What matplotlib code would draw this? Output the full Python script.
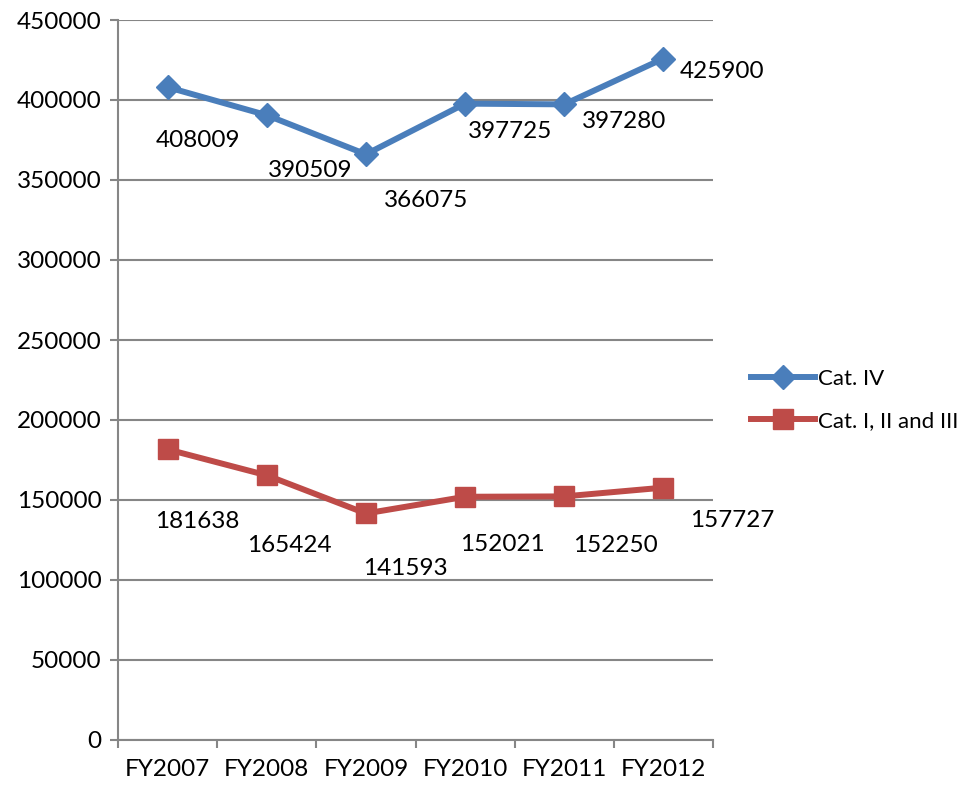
import matplotlib
matplotlib.use('Agg')
import matplotlib.pyplot as plt

years = ['FY2007', 'FY2008', 'FY2009', 'FY2010', 'FY2011', 'FY2012']
cat_iv = [408009, 390509, 366075, 397725, 397280, 425900]
cat_i_iii = [181638, 165424, 141593, 152021, 152250, 157727]

# where each value label sits relative to its point (pixels)
iv_offsets = [(30, -53), (43, -55), (60, -46), (45, -28), (60, -17), (59, -13)]
i_iii_offsets = [(30, -72), (23, -70), (39, -55), (37, -48), (51, -49), (69, -33)]

blue = '#4A7EBB'
red = '#BE4B48'
grey = '#868686'

plt.rcParams['font.family'] = ['Lato', 'DejaVu Sans']
plt.rcParams['font.size'] = 17.5

fig = plt.figure(figsize=(9.65, 7.85), dpi=100)
W, H = 965, 785
ax = fig.add_axes([118 / W, 45 / H, (713 - 118) / W, (740 - 20) / H])

xs = [i + 0.5 for i in range(len(years))]
ax.plot(xs, cat_iv, color=blue, lw=4.3, marker='D', ms=12,
        label='Cat. IV', zorder=3)
ax.plot(xs, cat_i_iii, color=red, lw=4.3, marker='s', ms=14,
        label='Cat. I, II and III', zorder=3)

for x, v, off in zip(xs, cat_iv, iv_offsets):
    ax.annotate(str(v), (x, v), xytext=off, textcoords='offset pixels',
                ha='center', va='center', color='black')
for x, v, off in zip(xs, cat_i_iii, i_iii_offsets):
    ax.annotate(str(v), (x, v), xytext=off, textcoords='offset pixels',
                ha='center', va='center', color='black')

ax.set_xlim(0, len(years))
ax.set_ylim(0, 450000)
ax.set_yticks(range(0, 450001, 50000))
ax.set_xticks(range(len(years) + 1))
ax.set_xticklabels([])
ax.set_xticks(xs, minor=True)
ax.set_xticklabels(years, minor=True)
ax.tick_params(axis='x', which='minor', length=0, pad=14)
ax.tick_params(axis='x', which='major', direction='out', length=6,
               width=1.5, color=grey)
ax.tick_params(axis='y', direction='out', length=6, width=1.5, color=grey,
               pad=6)

ax.grid(axis='y', color=grey, lw=1.5)
ax.set_axisbelow(True)
for side in ['top', 'right']:
    ax.spines[side].set_visible(False)
for side in ['left', 'bottom']:
    ax.spines[side].set_color(grey)
    ax.spines[side].set_linewidth(1.5)

fig.legend(loc='center left', bbox_to_anchor=(742 / W, 1 - 400 / H),
           frameon=False, handlelength=2.9, handletextpad=0.1,
           labelspacing=1.0, borderaxespad=0, fontsize=16)

fig.savefig('out.png', dpi=100)
